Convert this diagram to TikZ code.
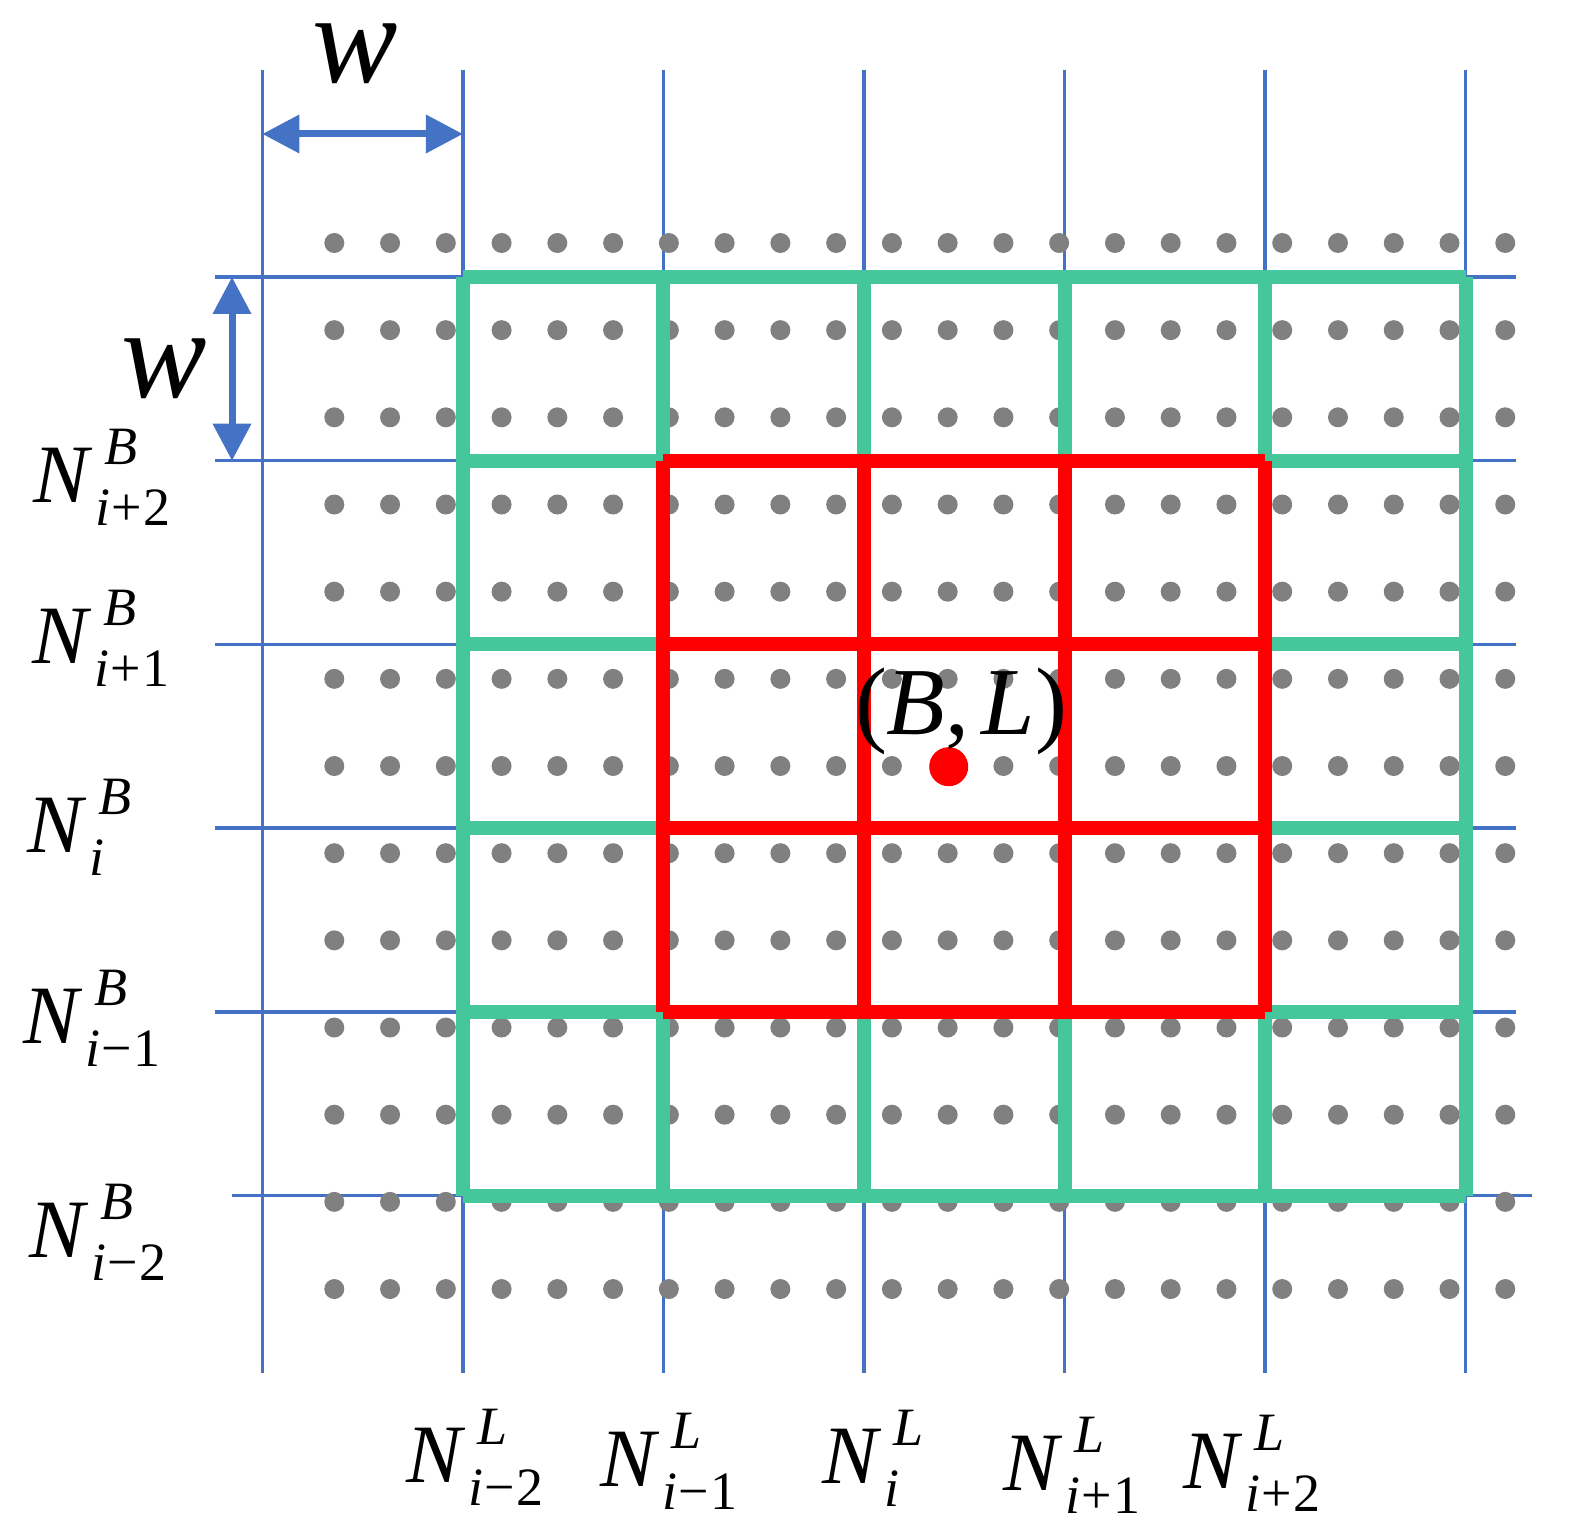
\documentclass[tikz,border=0pt]{standalone}
\usepackage{fontspec}
\setmainfont{Liberation Serif}
\usetikzlibrary{arrows.meta}
\definecolor{gblue}{HTML}{4472C4}
\definecolor{ggreen}{HTML}{46C79B}
\definecolor{gdot}{HTML}{808080}
\definecolor{gred}{HTML}{FF0000}
\newcommand{\scr}{\fontsize{27}{27}\selectfont}
\newcommand{\NLab}[2]{\textit{N}\rlap{\kern6pt\raisebox{19pt}{\scr\textit{#1}}}\kern1.5pt\raisebox{-11.5pt}{\scr #2}}
\newcommand{\pl}{\kern0.5pt+\kern0.5pt}
\newcommand{\mi}{\kern0.5pt−\kern0.5pt}
\tikzset{
  bluegrid/.style={gblue, line width=1.75pt},
  greenline/.style={ggreen, line width=7pt, line cap=butt},
  redline/.style={gred, line width=7pt, line cap=butt},
  dimarrow/.style={gblue, line width=3.5pt, {Triangle[length=18.5pt,width=18.5pt]}-{Triangle[length=18.5pt,width=18.5pt]}},
  nlabel/.style={inner sep=0pt, anchor=base west, font=\fontsize{41.5}{48}\selectfont},
  wlabel/.style={inner sep=0pt, anchor=base, text height=32pt, text depth=0pt, font=\fontsize{64}{70}\selectfont\itshape},
}
\begin{document}
\begin{tikzpicture}[x=0.5pt, y=-0.5pt]
\useasboundingbox (0,0) rectangle (1569,1529);
% grid points
\foreach \x [count=\i from 0] in {262.3,462.9,663.4,864.0,1064.6,1265.2,1465.7}
  \foreach \y [count=\j from 0] in {277,460.7,644.4,828.1,1011.8,1195.5}
    \coordinate (p\i\j) at (\x,\y);
% blue grid
\foreach \x in {262.3,462.9,663.4,864.0,1064.6,1265.2,1465.7}
  \draw[bluegrid] (\x,70) -- (\x,1373);
\foreach \y in {277,460.7,644.4,828.1,1011.8}
  \draw[bluegrid] (215,\y) -- (1516,\y);
\draw[bluegrid] (232,1195.5) -- (1532,1195.5);
% dots
\foreach \c in {0,...,21}
  \foreach \r in {0,...,12}
    \fill[gdot] (334.3+55.76*\c, 243+87.17*\r) circle (5pt);
% green frame
\draw[greenline] (p10) -- (p60);
\draw[greenline] (p15) -- (p65);
\draw[greenline] (p10) -- (p15);
\draw[greenline] (p60) -- (p65);
\foreach \i in {2,3,4,5} {
  \draw[greenline] (p\i0) -- (p\i1);
  \draw[greenline] (p\i4) -- (p\i5);
}
\foreach \j in {1,2,3,4} {
  \draw[greenline] (p1\j) -- (p2\j);
  \draw[greenline] (p5\j) -- (p6\j);
}
% red grid
\foreach \j in {1,2,3,4}
  \draw[redline] (p2\j) -- (p5\j);
\foreach \i in {2,3,4,5}
  \draw[redline] (p\i1) -- (p\i4);
\fill[gred] (948.7,766.7) circle (9.75pt);
\node[inner sep=0pt, anchor=base, font=\fontsize{48}{52}\selectfont] (BL) at (961,734) {(\textit{B}\/,\kern6pt\textit{L}\/)};
% dimension arrows
\coordinate (hA) at (262.3,134);
\coordinate (hB) at (462.9,134);
\coordinate (vA) at (232,277);
\coordinate (vB) at (232,460.7);
\draw[dimarrow] (hA) -- (hB);
\draw[dimarrow] (vA) -- (vB);
\node[wlabel] (wtop) at (355,83) {w};
\node[wlabel] (wleft) at (164,398) {w};
% row labels
\node[nlabel] (nb2) at (33,503) {\NLab{B}{\textit{i}\pl2}};
\node[nlabel] (nb1) at (32,663) {\NLab{B}{\textit{i}\pl1}};
\node[nlabel] (nb0) at (27,852) {\NLab{B}{\textit{i}}};
\node[nlabel] (nbm1) at (23,1043) {\NLab{B}{\textit{i}\mi1}};
\node[nlabel] (nbm2) at (29,1257) {\NLab{B}{\textit{i}\mi2}};
% column labels
\node[nlabel] (nlm2) at (406,1482) {\NLab{L}{\textit{i}\mi2}};
\node[nlabel] (nlm1) at (600,1486) {\NLab{L}{\textit{i}\mi1}};
\node[nlabel] (nl0) at (822,1483) {\NLab{L}{\textit{i}}};
\node[nlabel] (nl1) at (1003,1490) {\NLab{L}{\textit{i}\pl1}};
\node[nlabel] (nl2) at (1183,1488) {\NLab{L}{\textit{i}\pl2}};
\end{tikzpicture}
\end{document}
